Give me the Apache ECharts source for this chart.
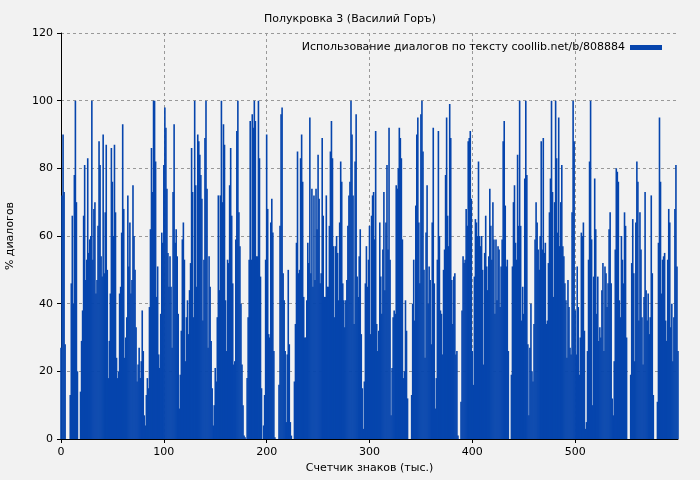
<!DOCTYPE html>
<html><head><meta charset="utf-8">
<script src="https://cdn.jsdelivr.net/npm/echarts@6/dist/echarts.min.js"></script>
<style>html,body{margin:0;background:#f2f2f2}#c{width:700px;height:480px}</style>
</head><body><div id="c"></div>
<script>
const title = "Полукровка 3 (Василий Горъ)";
const legendName = "Использование диалогов по тексту coollib.net/b/808884";
const xName = "Счетчик знаков (тыс.)";
const yName = "% диалогов";
const part1 = [27,72,90,73,28,0,0,0,0,13,46,66,40,78,100,70,20,0,0,14,29,38,66,81,47,53,83,55,59,60,100,53,68,70,43,47,63,88,81,54,48,90,49,67,87,50,18,29,43,86,76,60,87,67,24,18,20,43,45,61,93,68,24,30,36,72,51,64,43,47,75,60,50,33,17,22,27,18,23,38,26,7,4,13,18,15,39,62,86,73,100,100,82,42,51,25,21,37,61,58,81,98,92,74,55,45,54,45,27,73,93,58,62,54,37,9,19,32,59,64,53,23,36,41,31,44,52,86,73,36,100,75,45,90,88,84,78,71,35,53,89,100,74,27,54,45,29,15,4];
const part2 = [10,21,17,36,72,44,72,100,70,93,87,41,26,53,52,75,86,66,46,22,23,59,91,100,67,57,40,22,10,1,0.5,0,18,36,53,94,53,96,92,100,94,54,54,100,83,48,15,0,4,13,53,90,68,31,30,64,71,61,26,0.5,0,0,0,16,63,96,98,49,41,26,5,25,50,28,5,1,0,0,17,34,58,85,49,50,83,90,76,42,30,30,41,58,52,95,49,74,45,72,47,74,62,84,71,46,49,89,66,42,42,72,45,45,63,85,94,83,57,36,57,60,55,41,64,82,76,46,41,33,41,47,63,72,76,100,90,72,34,82,96,48,42,54,62,31,15,3,17,46,57,45,53,63,31,66,72];
const part3 = [73,59,91,34,26,32,64,48,37,56,73,44,64,81,56,92,53,7,21,36,38,37,75,74,80,92,89,83,59,18,20,41,32,12,0,0,0,13,40,53,35,69,90,95,64,46,96,100,85,50,24,61,75,40,51,47,28,64,92,46,9,18,53,91,60,38,37,25,50,56,78,95,66,57,99,89,47,34,48,49,25,26,1,0,0,11,38,54,52,53,68,63,88,89,91,71,26,16,48,65,64,60,82,60,57,60,50,22,55,66,51,44,54,74,63,53,70,59,37,59,41,57,56,39,51,59,88,94,69,51,53,26,0,0,19,51,70,75,58,53,84,63,100,63,35,45,37,77,100,78,28,7,27];
const part4 = [40,20,17,34,59,70,64,56,50,60,88,56,89,55,58,34,35,52,67,77,100,73,42,70,100,83,61,95,57,70,81,57,54,46,41,24,47,39,27,25,67,100,88,38,25,51,39,19,30,61,60,64,32,3,5,26,53,82,100,59,10,48,77,62,37,48,29,33,30,44,52,26,51,49,39,46,62,67,46,12,7,23,56,80,79,76,41,36,60,53,46,67,63,30,0,0,0,19,52,65,49,23,64,82,76,35,67,56,36,22,42,73,44,35,43,31,36,72,49,13,0,0,0,11,58,95,76,43,53,54,55,35,29,53,68,64,33,40,23,36,68,81,51,26];
const values = part1.concat(part2, part3, part4);
const categories = values.map((_, i) => String(i));
const xTickStep = 100;
const onTick = (i) => i % xTickStep === 0 && i < values.length - 1;

const chart = echarts.init(document.getElementById('c'));
const font = 'DejaVu Sans';
chart.setOption({
  backgroundColor: '#f2f2f2',
  animation: false,
  textStyle: {fontFamily: font},
  title: {text: title, left: 'center', top: 9, textStyle: {fontSize: 11, fontWeight: 'normal', color: '#000', fontFamily: font}},
  legend: {data: [legendName], right: 33, top: 37, itemWidth: 32, itemHeight: 5, itemGap: 8,
    align: 'right', icon: 'rect', textStyle: {fontSize: 11, color: '#000', fontFamily: font}},
  grid: {left: 61, right: 22, top: 33, bottom: 41, containLabel: false, outerBoundsMode: 'none'},
  xAxis: {type: 'category', data: categories, boundaryGap: false, name: xName, nameLocation: 'middle', nameGap: 24,
    nameTextStyle: {fontSize: 11, color: '#000'},
    axisLine: {lineStyle: {color: '#000'}},
    axisTick: {interval: onTick, inside: false, length: 4, lineStyle: {color: '#000'}},
    axisLabel: {interval: onTick, color: '#000', fontSize: 11},
    splitLine: {show: true, interval: (i) => onTick(i) && i > 0, lineStyle: {color: '#999', type: [3, 3]}}
  },
  yAxis: {type: 'value', min: 0, max: 120, interval: 20, name: yName, nameLocation: 'middle', nameGap: 45,
    nameTextStyle: {fontSize: 11, color: '#000'},
    axisLine: {show: true, lineStyle: {color: '#000'}},
    axisTick: {show: true, length: 4, lineStyle: {color: '#000'}},
    axisLabel: {color: '#000', fontSize: 11},
    splitLine: {lineStyle: {color: '#999', type: [3, 3]}}
  },
  series: [{name: legendName, type: 'bar', data: values, barCategoryGap: '0%', barWidth: 1.6,
    itemStyle: {color: '#0645ad'}, z: 1}]
});
</script></body></html>
